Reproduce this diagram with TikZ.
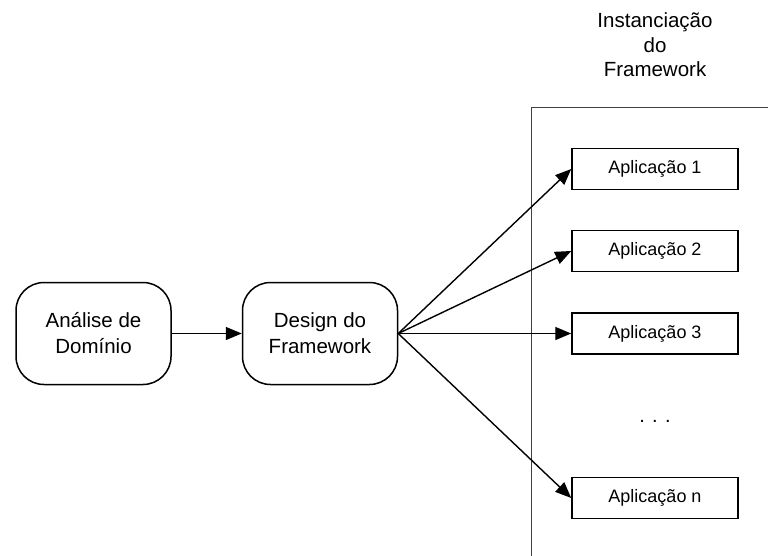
\documentclass[tikz,border=0pt]{standalone}
\usepackage{fontspec}
\setmainfont{Liberation Sans}
\usetikzlibrary{arrows.meta}
\begin{document}
\begin{tikzpicture}[x=1pt,y=-1pt,
  phase/.style={draw, line width=1.5pt, rounded corners=28pt, minimum width=155pt, minimum height=102pt, align=center, font=\fontsize{20.5}{26}\selectfont, inner sep=0pt},
  app/.style={draw, line width=1.5pt, minimum width=166pt, minimum height=41pt, font=\fontsize{18}{22}\selectfont, inner sep=0pt},
  conn/.style={line width=1.4pt, -{Triangle[length=16pt,width=13pt]}},
  region/.style={draw=black!75, line width=0.8pt},
  title/.style={align=center, font=\fontsize{20.5}{24.5}\selectfont, inner sep=0pt}
]
\useasboundingbox (0,0) rectangle (768,556);
\draw[region] (531,556) -- (531,107) -- (768,107);
\node[title] (t) at (655,45) {Instanciação\\do\\Framework};
\node[phase] (ad) at (93.5,333.5) {Análise de\\Domínio};
\node[phase] (df) at (320,333.5) {Design do\\Framework};
\node[app] (a1) at (655,169) {Aplicação 1};
\node[app] (a2) at (655,251) {Aplicação 2};
\node[app] (a3) at (655,333.5) {Aplicação 3};
\node[app] (an) at (655,498) {Aplicação n};
\node[font=\fontsize{20}{24}\selectfont, inner sep=0pt] (dots) at (655,421) {. . .};
\draw[conn] (ad) -- (df);
\draw[conn] (df.east) -- (a1.west);
\draw[conn] (df.east) -- (a2.west);
\draw[conn] (df.east) -- (a3.west);
\draw[conn] (df.east) -- (an.west);
\end{tikzpicture}
\end{document}
